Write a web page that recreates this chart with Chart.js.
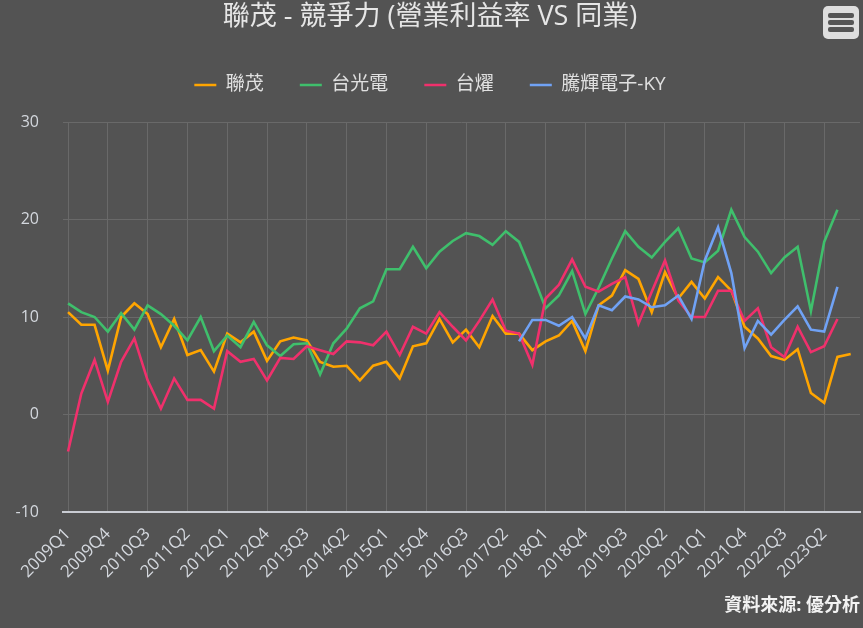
<!DOCTYPE html>
<html>
<head>
<meta charset="utf-8">
<script src="https://cdn.jsdelivr.net/npm/chart.js@4.4.1/dist/chart.umd.min.js"></script>
<style>
html,body{margin:0;padding:0;background:#535353;}
#wrap{position:relative;width:863px;height:628px;}
#menu{position:absolute;left:823px;top:6px;width:36px;height:33px;background:#dedede;border-radius:5px;}
#menu span{position:absolute;left:5px;width:26px;height:5px;background:#555;border-radius:2px;}
</style>
</head>
<body>
<div id="wrap">
<canvas id="c" width="863" height="628"></canvas>
<div id="menu"><span style="top:7px"></span><span style="top:14px"></span><span style="top:21px"></span></div>
</div>
<script>
const categories = [
 "2009Q1","2009Q2","2009Q3","2009Q4","2010Q1","2010Q2","2010Q3","2010Q4",
 "2011Q1","2011Q2","2011Q3","2011Q4","2012Q1","2012Q2","2012Q3","2012Q4",
 "2013Q1","2013Q2","2013Q3","2013Q4","2014Q1","2014Q2","2014Q3","2014Q4",
 "2015Q1","2015Q2","2015Q3","2015Q4","2016Q1","2016Q2","2016Q3","2016Q4",
 "2017Q1","2017Q2","2017Q3","2017Q4","2018Q1","2018Q2","2018Q3","2018Q4",
 "2019Q1","2019Q2","2019Q3","2019Q4","2020Q1","2020Q2","2020Q3","2020Q4",
 "2021Q1","2021Q2","2021Q3","2021Q4","2022Q1","2022Q2","2022Q3","2022Q4",
 "2023Q1","2023Q2","2023Q3","2023Q4"
];
const seriesNames = ["聯茂","台光電","台燿","騰輝電子-KY"];
const itEQ = [10.5,9.2,9.2,4.5,10.0,11.4,10.3,6.9,9.8,6.1,
 6.6,4.4,8.3,7.4,8.5,5.5,7.5,7.9,7.6,5.4,
 4.9,5.0,3.5,5.0,5.4,3.7,7.0,7.3,9.8,7.4,
 8.7,6.9,10.1,8.3,8.3,6.6,7.5,8.1,9.6,6.5,
 11.2,12.2,14.8,13.9,10.5,14.6,11.9,13.6,11.9,14.1,
 12.7,9.0,7.8,6.0,5.6,6.7,2.2,1.2,5.9,6.2];
const eliteMaterial = [11.4,10.5,10.0,8.5,10.4,8.7,11.2,10.3,9.1,7.6,
 10.0,6.5,8.1,6.9,9.5,7.1,6.0,7.2,7.3,4.1,
 7.3,8.8,10.9,11.6,14.9,14.9,17.2,15.0,16.7,17.8,
 18.6,18.3,17.4,18.8,17.7,14.4,10.9,12.2,14.7,10.3,
 13.0,16.0,18.8,17.2,16.1,17.7,19.1,16.0,15.6,16.8,
 21.0,18.2,16.7,14.5,16.1,17.2,10.6,17.7,21.0];
const taiflex = [-3.8,2.15,5.6,1.3,5.4,7.8,3.5,0.6,3.7,1.5,
 1.5,0.6,6.5,5.4,5.7,3.5,5.8,5.7,7.0,6.6,
 6.2,7.5,7.4,7.1,8.5,6.1,9.0,8.3,10.5,9.0,
 7.6,9.6,11.8,8.6,8.3,5.1,11.9,13.3,15.9,13.1,
 12.6,13.4,14.1,9.3,12.6,15.8,11.7,10.0,10.0,12.7,
 12.7,9.6,10.9,6.9,5.9,9.0,6.4,7.0,9.8];
const ventec = [null,null,null,null,null,null,null,null,null,null,
 null,null,null,null,null,null,null,null,null,null,
 null,null,null,null,null,null,null,null,null,null,
 null,null,null,null,7.5,9.7,9.7,9.1,10.0,7.8,
 11.2,10.7,12.1,11.8,11.0,11.2,12.2,9.8,15.8,19.2,
 14.5,6.8,9.6,8.2,9.7,11.1,8.7,8.5,13.1];
const yTicks = [-10,0,10,20,30];

const colors = ["#ffa500","#3fbf6c","#f0306c","#70a2f5"];
const allSeries = [itEQ, eliteMaterial, taiflex, ventec];
const tickIdx = categories.map((c,i)=>i).filter(i=>i%3===0);
const FONT = '"Open Sans","Noto Sans CJK TC",sans-serif';

const datasets = allSeries.map((arr,k)=>({
  label: seriesNames[k],
  data: arr.map((v,i)=>({x:i,y:v})),
  borderColor: colors[k],
  backgroundColor: colors[k],
  borderWidth: 2.6,
  pointRadius: 0,
  pointHoverRadius: 0,
  tension: 0,
  fill: false,
  spanGaps: false,
  order: 3-k
}));

const bgPlugin = {
  id:'bg',
  beforeDraw(chart){
    const ctx = chart.ctx; ctx.save();
    ctx.fillStyle = '#535353';
    ctx.fillRect(0,0,chart.width,chart.height);
    ctx.restore();
  }
};
const legendSpace = {
  id:'legendSpace',
  afterInit(chart){
    const lg = chart.legend; if(!lg) return;
    const fit = lg.fit;
    lg.fit = function(){ fit.call(this); this.height += 17.5; };
  }
};

new Chart(document.getElementById('c'), {
  type:'line',
  data:{ datasets },
  plugins:[bgPlugin, legendSpace],
  options:{
    responsive:false,
    devicePixelRatio:1,
    animation:false,
    layout:{padding:{left:0,right:3,top:0,bottom:0}},
    plugins:{
      title:{display:true,text:'聯茂 - 競爭力 (營業利益率 VS 同業)',color:'#e6e6e6',
        font:{family:FONT,size:27,weight:'normal'},padding:{top:1,bottom:6.1}},
      subtitle:{display:true,position:'bottom',align:'end',text:'資料來源: 優分析',color:'#f2f2f2',
        font:{family:FONT,size:18,weight:'bold'},padding:{top:0,bottom:11}},
      legend:{position:'top',
        labels:{color:'#e0e0e0',font:{family:FONT,size:19},usePointStyle:true,pointStyle:'line',
          pointStyleWidth:22,padding:36,sort:(a,b)=>a.datasetIndex-b.datasetIndex}},
      tooltip:{enabled:false}
    },
    scales:{
      x:{type:'linear',min:-0.38,max:59.7,
        afterBuildTicks:(s)=>{s.ticks = tickIdx.map(v=>({value:v}));},
        afterFit:(s)=>{s.height=83.4;},
        ticks:{autoSkip:false,maxRotation:45,minRotation:45,color:'#d4d8de',padding:12,
          font:{family:FONT,size:17},callback:(v)=>categories[v]},
        grid:{color:'#696969',lineWidth:1,drawTicks:false},
        border:{color:'#c9ccd3',width:2}
      },
      y:{min:-10,max:30,
        afterBuildTicks:(s)=>{s.ticks = yTicks.map(v=>({value:v}));},
        afterFit:(s)=>{s.width=63;},
        ticks:{color:'#d4d8de',padding:24,font:{family:FONT,size:16}},
        grid:{color:'#696969',lineWidth:1,drawTicks:false},
        border:{display:false}
      }
    }
  }
});
</script>
</body>
</html>
